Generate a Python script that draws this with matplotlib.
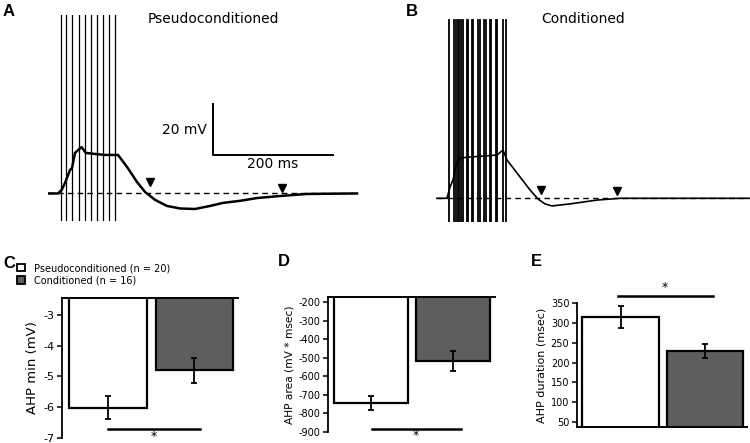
import matplotlib
matplotlib.use('Agg')
import matplotlib.pyplot as plt
import numpy as np

plt.rcParams['font.family'] = ['DejaVu Sans']
plt.rcParams['axes.unicode_minus'] = False

W, H = 750, 443

# ---- trace data (time in ms, voltage in mV relative to rest) ----
pseudo_t = [0, 16.7, 22.8, 28.3, 36.7, 40, 45, 50, 56, 63, 78, 95, 116.7, 131.7,
            148.3, 161.7, 178.3, 198.3, 220, 245, 270, 291.7, 320, 348.3, 386.7,
            431.7, 515]
pseudo_v = [0, 0, 1.4, 4.1, 9.2, 10, 15.9, 17, 18.2, 15.9, 15.5, 15.1, 15.1, 10.4,
            4.5, 0.6, -2.5, -4.9, -5.9, -6.1, -4.9, -3.7, -2.9, -1.8, -1.0, -0.2, 0]
pseudo_spikes = [21.7, 30.5, 40.5, 51.2, 61.2, 71.2, 81.2, 91.7, 101.7, 112.2]
pseudo_arrows_t = [170, 390]
pseudo_arrows_v = [4.5, 2.2]

cond_t = [3.3, 20, 25, 30, 36.2, 41.7, 58.3, 83.3, 103.3, 113.3, 120, 136.7, 158.3,
          171.7, 183.3, 195, 225, 270, 308.3, 523.3]
cond_v = [0, 0, 4.4, 7.2, 13.8, 15.8, 16.2, 16.6, 17, 18.9, 15, 9.9, 3.3,
          -0.3, -2.2, -3.0, -2.2, -0.7, 0, 0]
cond_spikes = [23.3, 31.7, 35, 38.3, 39.5, 42.8, 47, 53.3, 55.5, 62, 64, 72.5, 74.5,
               82.5, 84.5, 92, 94, 101.5, 103.5, 113, 119]
cond_arrows_t = [177, 304]
cond_arrows_v = [3.3, 3.0]

spike_top, spike_bottom = 70, -10.6

# ---- bar data ----
groups = ['Pseudoconditioned (n = 20)', 'Conditioned (n = 16)']
ahp_min = [-6.02, -4.8]
ahp_min_err = [0.37, 0.41]
ahp_area = [-745, -518]
ahp_area_err = [38, 52]
ahp_dur = [315, 229]
ahp_dur_err = [28, 17]
bar_colors = ['white', '#5e5e5e']


def rect(x0, y0, x1, y1):
    return [x0 / W, 1 - y1 / H, (x1 - x0) / W, (y1 - y0) / H]


fig = plt.figure(figsize=(7.5, 4.43), dpi=100)


def trace_panel(box, xlim, ylim, t, v, spikes, arr_t, arr_v, lw, spike_lw):
    ax = fig.add_axes(rect(*box))
    ax.set_xlim(*xlim)
    ax.set_ylim(*ylim)
    ax.axis('off')
    for s in spikes:
        ax.plot([s, s], [spike_bottom, spike_top], color='black', lw=spike_lw)
    ax.plot([t[0], t[-1]], [0, 0], color='black', lw=1.0, ls=(0, (4, 3)))
    ax.plot(t, v, color='black', lw=lw, solid_joinstyle='round')
    ax.plot(arr_t, arr_v, 'v', color='black', ms=6)
    return ax


axA = trace_panel((48, 15, 362, 222), (0, 523.3), (-11.2, 70), pseudo_t, pseudo_v,
                  pseudo_spikes, pseudo_arrows_t, pseudo_arrows_v, 1.8, 0.9)
# scale bar
axA.plot([275, 275, 475], [35.1, 15.1, 15.1], color='black', lw=1.4)
axA.text(265, 25, '20 mV', ha='right', va='center', fontsize=10)
axA.text(375, 11.5, '200 ms', ha='center', va='center', fontsize=10)

axB = trace_panel((435, 15, 750, 222), (0, 525), (-9.3, 71.9), cond_t, cond_v,
                  cond_spikes, cond_arrows_t, cond_arrows_v, 1.2, 1.3)

fig.text(213 / W, 1 - 19 / H, 'Pseudoconditioned', ha='center', va='center', fontsize=10)
fig.text(583 / W, 1 - 19 / H, 'Conditioned', ha='center', va='center', fontsize=10)

for lbl, x, y in [('A', 3, 11), ('B', 406, 11), ('C', 3, 263), ('D', 278, 261), ('E', 531, 262)]:
    fig.text(x / W, 1 - y / H, lbl, ha='left', va='center', fontsize=12,
             fontweight='bold', family='Liberation Sans')


def bar_panel(box, xlim, ylim, vals, errs, ticks, ylabel, label_size, tick_size, top=True):
    ax = fig.add_axes(rect(*box))
    x = np.arange(len(vals))
    bars = ax.bar(x, vals, 0.9, color=bar_colors, edgecolor='black', linewidth=1.6)
    ax.errorbar(x, vals, yerr=errs, fmt='none', ecolor='black', elinewidth=1.3,
                capsize=2.5, capthick=1.3)
    ax.set_xlim(*xlim)
    ax.set_ylim(*ylim)
    ax.set_yticks(ticks)
    ax.set_yticklabels([str(t) for t in ticks])
    ax.set_xticks([])
    ax.set_facecolor('none')
    ax.spines['right'].set_visible(False)
    if top:
        ax.spines['bottom'].set_visible(False)
        ax.spines['top'].set_linewidth(1.4)
    else:
        ax.spines['top'].set_visible(False)
        ax.spines['bottom'].set_linewidth(1.4)
    ax.spines['left'].set_linewidth(1.3)
    ax.tick_params(axis='y', length=3.5, width=1.1, labelsize=tick_size, pad=2)
    ax.set_ylabel(ylabel, fontsize=label_size, labelpad=3)
    return ax, bars


axC, barsC = bar_panel((62, 298, 238, 438), (-0.532, 1.503), (-7, -2.45), ahp_min, ahp_min_err,
                       [-7, -6, -5, -4, -3], 'AHP min (mV)', 9.5, 8)
axC.plot([0.0, 1.06], [-6.71, -6.71], color='black', lw=1.8, clip_on=False)
axC.text(0.53, -6.95, '*', ha='center', va='center', fontsize=9, clip_on=False)

axD, barsD = bar_panel((328, 297, 495, 432), (-0.524, 1.51), (-900, -173), ahp_area, ahp_area_err,
                       list(range(-900, -199, 100)), 'AHP area (mV * msec)', 7.7, 7)
axD.plot([0.01, 1.09], [-884, -884], color='black', lw=1.8, clip_on=False)
axD.text(0.54, -918, '*', ha='center', va='center', fontsize=9, clip_on=False)

axE, barsE = bar_panel((577, 303, 747, 427), (-0.515, 1.497), (37.4, 350), ahp_dur, ahp_dur_err,
                       list(range(50, 351, 50)), 'AHP duration (msec)', 8, 7, top=False)
axE.plot([-0.03, 1.09], [367.6, 367.6], color='black', lw=1.8, clip_on=False)
axE.text(0.525, 388, '*', ha='center', va='center', fontsize=9, clip_on=False)

leg = axC.legend(barsC, groups, loc='upper left', bbox_to_anchor=(17 / W, 1 - 263 / H),
                 bbox_transform=fig.transFigure, frameon=False, fontsize=7,
                 handlelength=0.8, handleheight=0.8, handletextpad=1.0,
                 labelspacing=0.25, borderpad=0, borderaxespad=0)
for p in leg.get_patches():
    p.set_linewidth(1.3)

fig.savefig('out.png', dpi=100)
